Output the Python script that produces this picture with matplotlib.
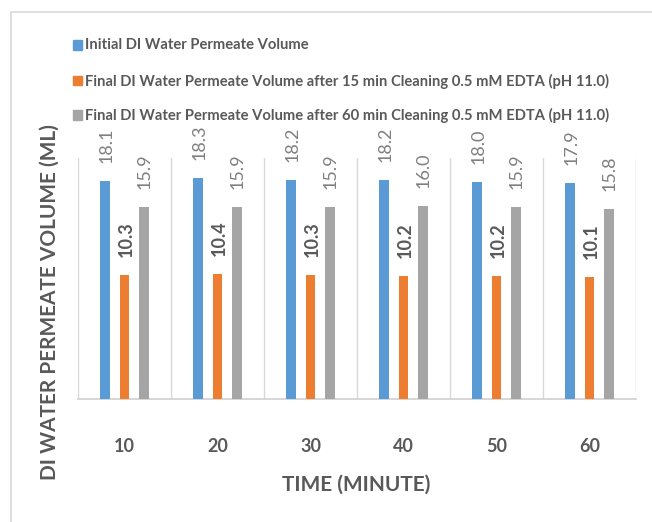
import matplotlib
matplotlib.use("Agg")
import matplotlib.pyplot as plt
from matplotlib.patches import Rectangle
import numpy as np

plt.rcParams['font.family'] = ['Lato', 'DejaVu Sans']

# Data
times = ["10", "20", "30", "40", "50", "60"]
initial = [18.1, 18.3, 18.2, 18.2, 18.0, 17.9]
after_15 = [10.3, 10.4, 10.3, 10.2, 10.2, 10.1]
after_60 = [15.9, 15.9, 15.9, 16.0, 15.9, 15.8]
series_labels = [
    "Initial DI Water Permeate Volume",
    "Final DI Water Permeate Volume after 15 min Cleaning 0.5 mM EDTA (pH 11.0)",
    "Final DI Water Permeate Volume after 60 min Cleaning 0.5 mM EDTA (pH 11.0)",
]
colors = ["#5B9BD5", "#ED7D31", "#A5A5A5"]

W, H = 652, 522
fig = plt.figure(figsize=(W / 100, H / 100), dpi=100)
fig.patch.set_facecolor("white")

# chart frame
fig.add_artist(Rectangle((11 / W, -0.1), 1.2, 1 - 12 / H + 0.1,
                         transform=fig.transFigure, fill=False,
                         edgecolor="#D9D9D9", linewidth=1.2))

ax = fig.add_axes([78 / W, (H - 399) / H, 558 / W, 241 / H])
x = np.arange(len(times))
width = 0.1075
offsets = [-0.208, 0.0, 0.205]
text_grey = "#595959"
label_grey = "#7F7F7F"

for vals, off, col, lbl_i in zip([initial, after_15, after_60], offsets, colors, range(3)):
    ax.bar(x + off, vals, width=width, color=col, zorder=3)
    for xi, v in zip(x + off, vals):
        ax.annotate(f"{v:.1f}", (xi, v), xytext=(1, 13), textcoords="offset points",
                    rotation=90, ha="center", va="bottom",
                    fontsize=13, color=label_grey if lbl_i != 1 else text_grey,
                    fontweight="bold" if lbl_i == 1 else "normal")

ax.set_xlim(-0.5, len(times) - 0.5)
ax.set_ylim(0, 20)
ax.set_yticks([])
ax.set_xticks(x)
ax.set_xticklabels(times, fontsize=13, fontweight="bold", color=text_grey)
ax.set_xticks(np.arange(-0.5, len(times), 1.0), minor=True)
ax.tick_params(axis="x", which="both", length=0, pad=28)
ax.grid(axis="x", which="minor", color="#D9D9D9", linewidth=1.0, zorder=0)
for s in ["top", "right", "left"]:
    ax.spines[s].set_visible(False)
ax.spines["bottom"].set_color("#D0D0D0")
ax.spines["bottom"].set_linewidth(1.2)

fig.text(356 / W, 1 - 485 / H, "TIME (MINUTE)", ha="center", va="center",
         fontsize=15, fontweight="bold", color=text_grey)
fig.text(50 / W, 1 - 302 / H, "DI WATER PERMEATE VOLUME (ML)", ha="center",
         va="center", rotation=90, fontsize=15, fontweight="bold", color=text_grey)

# legend
for i, (lbl, col) in enumerate(zip(series_labels, colors)):
    yc = [45, 81, 115][i]
    fig.add_artist(Rectangle((73 / W, 1 - (yc + 4.5) / H), 9 / W, 9 / H,
                             transform=fig.transFigure, color=col))
    fig.text(85 / W, 1 - yc / H, lbl, ha="left", va="center",
             fontsize=10.6, fontweight="bold", color=text_grey)

fig.savefig("out.png", dpi=100)
